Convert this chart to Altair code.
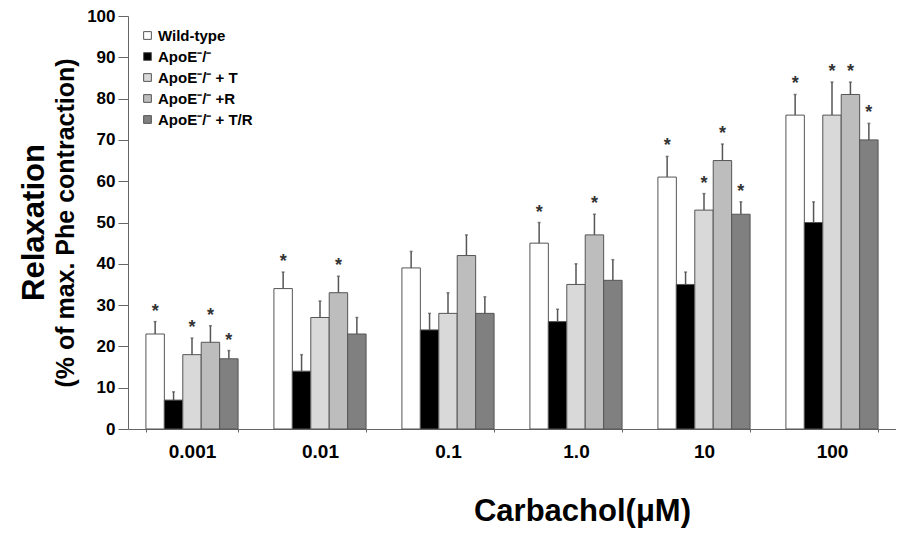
import altair as alt
import pandas as pd

groups = ["0.001", "0.01", "0.1", "1.0", "10", "100"]
series = ["Wild-type", "ApoE⁻/⁻", "ApoE⁻/⁻ + T", "ApoE⁻/⁻ +R", "ApoE⁻/⁻ + T/R"]
colors = ["#ffffff", "#000000", "#d9d9d9", "#bdbdbd", "#808080"]

wt = [23, 34, 39, 45, 61, 76]
wt_err = [26, 38, 43, 50, 66, 81]
apoe = [7, 14, 24, 26, 35, 50]
apoe_err = [9, 18, 28, 29, 38, 55]
t = [18, 27, 28, 35, 53, 76]
t_err = [22, 31, 33, 40, 57, 84]
r = [21, 33, 42, 47, 65, 81]
r_err = [25, 37, 47, 52, 69, 84]
tr = [17, 23, 28, 36, 52, 70]
tr_err = [19, 27, 32, 41, 55, 74]

wt_star = [1, 1, 0, 1, 1, 1]
apoe_star = [0, 0, 0, 0, 0, 0]
t_star = [1, 0, 0, 0, 1, 1]
r_star = [1, 1, 0, 1, 1, 1]
tr_star = [1, 0, 0, 0, 1, 1]

vals = [wt, apoe, t, r, tr]
errs = [wt_err, apoe_err, t_err, r_err, tr_err]
stars = [wt_star, apoe_star, t_star, r_star, tr_star]

rows = []
for si, s in enumerate(series):
    for gi, g in enumerate(groups):
        rows.append({"group": g, "series": s, "value": vals[si][gi],
                     "err": errs[si][gi], "star": "*" if stars[si][gi] else ""})
df = pd.DataFrame(rows)

FONT = "Liberation Sans"

x_enc = alt.X("group:N", sort=groups,
              scale=alt.Scale(paddingInner=0.28, paddingOuter=0.14),
              axis=alt.Axis(title="Carbachol(μM)", labelAngle=0, tickBand="extent",
                            tickSize=3, labelPadding=10, labelFontSize=19,
                            labelFont=FONT, labelFontWeight="bold",
                            titleFont=FONT, titleFontSize=31, titleFontWeight="bold",
                            titlePadding=35, titleX=454, titleAlign="center",
                            domainColor="#666", tickColor="#666",
                            labelColor="#000", titleColor="#000"))
xo = alt.XOffset("series:N", sort=series, scale=alt.Scale(paddingInner=0, paddingOuter=0))

base = alt.Chart(df)

bars = base.mark_bar(stroke="#555", strokeWidth=1).encode(
    x=x_enc,
    xOffset=xo,
    y=alt.Y("value:Q", scale=alt.Scale(domain=[0, 100]),
            axis=alt.Axis(title="(% of max. Phe contraction)",
                          values=list(range(0, 101, 10)), grid=False,
                          tickSize=10, labelPadding=3, labelFontSize=17,
                          labelFont=FONT, labelFontWeight="bold",
                          titleFont=FONT, titleFontSize=25, titleFontWeight="bold",
                          titlePadding=8,
                          domainColor="#666", tickColor="#666",
                          labelColor="#000", titleColor="#000")),
    fill=alt.Fill("series:N", sort=series,
                  scale=alt.Scale(domain=series, range=colors),
                  legend=alt.Legend(title=None, orient="none", legendX=12, legendY=12,
                                    symbolType="square", symbolSize=60,
                                    symbolStrokeColor="#555", symbolStrokeWidth=1,
                                    labelFont=FONT, labelFontSize=15, labelOffset=3,
                                    labelFontWeight="bold", labelColor="#000",
                                    rowPadding=5, symbolOffset=0)),
)

rules = base.mark_rule(color="#555", strokeWidth=1.5).encode(
    x=alt.X("group:N", sort=groups),
    xOffset=xo,
    y="value:Q",
    y2="err:Q",
)

caps = base.mark_tick(color="#555", thickness=1.5, size=3, orient="horizontal").encode(
    x=alt.X("group:N", sort=groups),
    xOffset=xo,
    y="err:Q",
)

star_txt = base.mark_text(font=FONT, fontSize=18, fontWeight="bold", color="#333",
                          baseline="middle", dy=-10).encode(
    x=alt.X("group:N", sort=groups),
    xOffset=xo,
    y="err:Q",
    text="star:N",
)

chart = alt.layer(bars, rules, caps, star_txt).properties(
    width=768, height=413,
    autosize=alt.AutoSizeParams(type="none"),
    padding={"left": 120, "top": 8, "right": 0, "bottom": 105},
    title=alt.TitleParams("Relaxation", orient="left", anchor="middle", offset=3,
                          font=FONT, fontSize=31, fontWeight="bold", color="#000"),
).configure_view(stroke=None)

chart.save("out.html", embed_options={"renderer": "svg", "actions": False})
